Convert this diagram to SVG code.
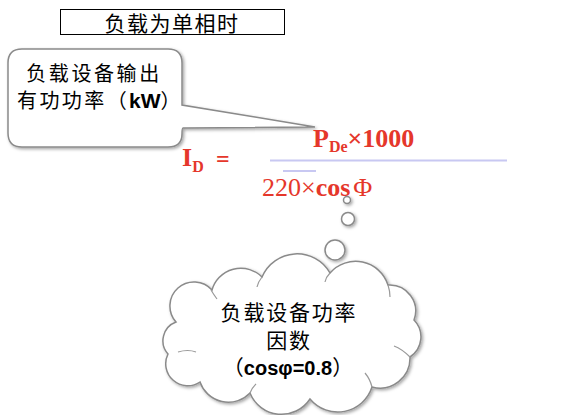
<svg xmlns="http://www.w3.org/2000/svg" width="572" height="415" viewBox="0 0 572 415">
<defs>
<filter id="sh" x="-10%" y="-10%" width="130%" height="130%">
<feDropShadow dx="1.5" dy="1.5" stdDeviation="1.5" flood-color="#000" flood-opacity="0.35"/>
</filter>
<style>
.cjk{font-family:"Noto Sans CJK SC","Liberation Sans",sans-serif;fill:#000}
.lat{font-family:"Liberation Sans",Arial,sans-serif;font-weight:bold;letter-spacing:0}
.red{font-family:"Liberation Serif","Times New Roman",serif;fill:#e5372b;font-weight:bold}
.shape{fill:#fff;stroke:#8a8a8a;stroke-width:1.5}
</style>
</defs>
<rect width="572" height="415" fill="#fff"/>
<g id="title">
<rect x="60.5" y="9.5" width="224" height="25" fill="#fff" stroke="#000" stroke-width="1"/>
<text class="cjk" x="172" y="31" font-size="21" letter-spacing="1.5" text-anchor="middle">负载为单相时</text>
</g>
<g id="callout">
<path class="shape" filter="url(#sh)" d="M22,49 H168 Q182,49 182,63 V105 L315,127 L183,128 Q182,128 182,134 Q182,147 168,147 H22 Q8,147 8,133 V63 Q8,49 22,49 Z"/>
<text class="cjk" x="94" y="81" font-size="20" letter-spacing="2.6" text-anchor="middle">负载设备输出</text>
<text class="cjk" x="100" y="108" font-size="20" letter-spacing="2.4" text-anchor="middle">有功功率（<tspan class="lat" font-size="21">kW</tspan>）</text>
</g>
<g id="formula">
<text class="red" x="182" y="166" font-size="26">I<tspan font-size="16" dy="6">D</tspan></text>
<text class="red" x="216" y="167" font-size="24">=</text>
<line x1="270" y1="160.5" x2="507" y2="160.5" stroke="#c8c8f2" stroke-width="2"/>
<line x1="283" y1="171" x2="316" y2="171" stroke="#c8c8f2" stroke-width="2"/>
<text class="red" x="313" y="147" font-size="26">P<tspan font-size="16" dy="5">De</tspan><tspan dy="-5">×1000</tspan></text>
<text class="red" x="262" y="196" font-size="26"><tspan font-weight="normal">220×</tspan>cos<tspan font-weight="normal" dx="3">Φ</tspan></text>
</g>
<g id="thought">
<g id="bubbles" filter="url(#sh)">
<circle class="shape" cx="347" cy="200" r="3.5"/>
<circle class="shape" cx="348" cy="219" r="6.5"/>
<circle class="shape" cx="335" cy="250" r="10"/>
</g>
<path class="shape" filter="url(#sh)" d="M176,322 A24,24 0 0 1 212,290 A30,30 0 0 1 262,277 A38,38 0 0 1 330,273 A34,34 0 0 1 388,285 A26,26 0 0 1 414,320 A24,24 0 0 1 410,357 A30,30 0 0 1 372,387 A36,36 0 0 1 310,399 A34,34 0 0 1 250,393 A30,30 0 0 1 200,382 A22,22 0 0 1 168,354 A20,20 0 0 1 176,322 Z"/>
<g fill="none" stroke="#9a9a9a" stroke-width="1.2">
<path d="M178,352 Q188,349 196,352"/>
<path d="M211,290 Q214,295 217,299"/>
<path d="M262,277 Q258,282 257,287"/>
<path d="M330,273 Q326,277 325,282"/>
<path d="M388,285 Q390,291 390,297"/>
<path d="M410,357 Q402,349 394,346"/>
<path d="M372,387 Q370,379 365,373"/>
<path d="M250,393 Q252,388 256,384"/>
</g>
<text class="cjk" x="289" y="320" font-size="21" letter-spacing="1.8" text-anchor="middle">负载设备功率</text>
<text class="cjk" x="289" y="348" font-size="21" letter-spacing="1.8" text-anchor="middle">因数</text>
<text class="cjk" x="288" y="375" font-size="21" text-anchor="middle">（<tspan class="lat" font-size="20">cosφ=0.8</tspan>）</text>
</g>
</svg>
